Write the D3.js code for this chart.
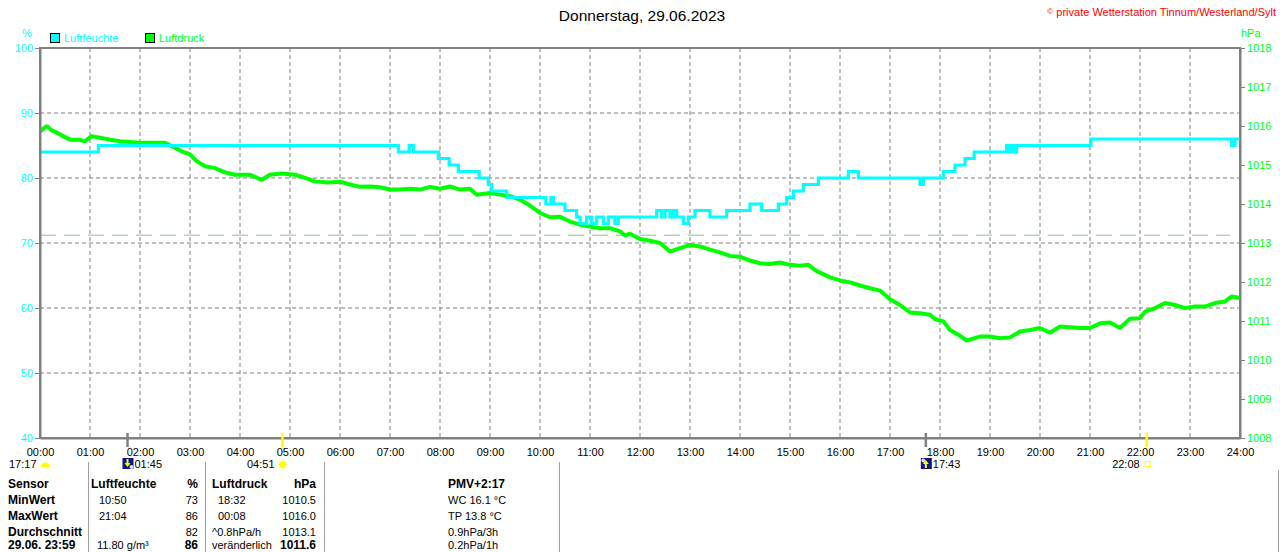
<!DOCTYPE html>
<html>
<head>
<meta charset="utf-8">
<script src="https://cdn.jsdelivr.net/npm/d3@7"></script>
<style>
  body { margin: 0; background: #fff; }
  svg { display: block; font-family: "Liberation Sans", Arial, sans-serif; }
</style>
</head>
<body>
<div class="canvas"></div>
<script>
// Luftfeuchte (step line), minutes since midnight -> %
const humTimes  = [0, 70, 430, 443, 448, 478, 491, 502, 527, 538, 542, 560, 607, 613, 616, 630, 644, 648, 656, 662,
                   668, 676, 682, 690, 694, 740, 746, 750, 756, 760, 764, 772, 778, 786, 804, 824, 852, 866, 886, 896,
                   904, 916, 934, 970, 982, 1056, 1060, 1084, 1098, 1110, 1121, 1160, 1163, 1166, 1169, 1172, 1261, 1430, 1434, 1440]
const humValues = [84, 85, 84, 85, 84, 83, 82, 81, 80, 79, 78, 77, 76, 77, 76, 75, 74, 73, 74, 73,
                   74, 73, 74, 73, 74, 75, 74, 75, 74, 75, 74, 73, 74, 75, 74, 75, 76, 75, 76, 77,
                   78, 79, 80, 81, 80, 79, 80, 81, 82, 83, 84, 85, 84, 85, 84, 85, 86, 85, 86, 86]

// Luftdruck, minutes since midnight -> hPa
const pressTimes = [
  0, 8, 14, 20, 26, 36, 46, 54, 62, 72,
  84, 96, 108, 120, 134, 150, 162, 170, 180, 188,
  198, 210, 222, 234, 252, 266, 276, 290, 306, 318,
  330, 346, 360, 372, 384, 396, 408, 420, 432, 444,
  456, 468, 480, 492, 504, 516, 524, 540, 552, 564,
  576, 588, 600, 612, 624, 636, 648, 660, 672, 684,
  696, 702, 708, 720, 732, 744, 756, 768, 780, 792,
  804, 816, 828, 840, 852, 864, 876, 888, 900, 912,
  922, 930, 936, 948, 960, 972, 984, 996, 1008, 1020,
  1032, 1044, 1056, 1068, 1074, 1084, 1092, 1104, 1112, 1128,
  1140, 1152, 1164, 1176, 1188, 1200, 1212, 1224, 1236, 1248,
  1260, 1272, 1284, 1296, 1308, 1320, 1326, 1338, 1350, 1362,
  1374, 1386, 1398, 1410, 1422, 1430, 1440]
const pressValues = [
  1015.86, 1016.0, 1015.89, 1015.83, 1015.76, 1015.65, 1015.65, 1015.61, 1015.74, 1015.7,
  1015.65, 1015.61, 1015.59, 1015.57, 1015.57, 1015.57, 1015.44, 1015.35, 1015.27, 1015.1,
  1014.97, 1014.92, 1014.81, 1014.75, 1014.75, 1014.62, 1014.75, 1014.78, 1014.75, 1014.67,
  1014.58, 1014.55, 1014.57, 1014.5, 1014.44, 1014.45, 1014.43, 1014.37, 1014.37, 1014.39,
  1014.37, 1014.44, 1014.39, 1014.45, 1014.37, 1014.39, 1014.24, 1014.28, 1014.24, 1014.2,
  1014.11, 1013.96, 1013.77, 1013.66, 1013.67, 1013.55, 1013.47, 1013.42, 1013.38, 1013.38,
  1013.3, 1013.19, 1013.24, 1013.1, 1013.06, 1013.0, 1012.78, 1012.87, 1012.95, 1012.91,
  1012.83, 1012.76, 1012.67, 1012.65, 1012.55, 1012.48, 1012.46, 1012.5, 1012.44, 1012.42,
  1012.44, 1012.31, 1012.24, 1012.12, 1012.04, 1011.99, 1011.91, 1011.84, 1011.78, 1011.56,
  1011.41, 1011.22, 1011.2, 1011.16, 1011.05, 1010.99, 1010.77, 1010.62, 1010.5, 1010.6,
  1010.6, 1010.56, 1010.58, 1010.73, 1010.77, 1010.82, 1010.7, 1010.86, 1010.84, 1010.82,
  1010.82, 1010.94, 1010.96, 1010.82, 1011.06, 1011.07, 1011.24, 1011.33, 1011.46, 1011.41,
  1011.33, 1011.37, 1011.37, 1011.46, 1011.5, 1011.63, 1011.59]

const avgPress = 1013.2

const hourTicks  = [0, 60, 120, 180, 240, 300, 360, 420, 480, 540, 600, 660, 720, 780, 840, 900, 960, 1020, 1080, 1140, 1200, 1260, 1320, 1380, 1440]
const hourLabels = ['00:00','01:00','02:00','03:00','04:00','05:00','06:00','07:00','08:00','09:00','10:00','11:00','12:00',
                    '13:00','14:00','15:00','16:00','17:00','18:00','19:00','20:00','21:00','22:00','23:00','24:00']
const humTicks   = [40, 50, 60, 70, 80, 90, 100]
const pressTicks = [1008, 1009, 1010, 1011, 1012, 1013, 1014, 1015, 1016, 1017, 1018]

// Sonne / Mond Ereignisse (minutes)
const moonSet = 105, sunRise = 291, moonRise = 1063, sunSet = 1328

const tableRows = ['Sensor', 'MinWert', 'MaxWert', 'Durchschnitt', '29.06. 23:59']
const humTimeCol  = ['', '10:50', '21:04', '', '11.80 g/m³']
const humValCol   = ['%', '73', '86', '82', '86']
const pressTimeCol = ['Luftdruck', '18:32', '00:08', '^0.8hPa/h', 'veränderlich']
const pressValCol  = ['hPa', '1010.5', '1016.0', '1013.1', '1011.6']
const pmvCol = ['PMV+2:17', 'WC 16.1 °C', 'TP 13.8 °C', '0.9hPa/3h', '0.2hPa/1h']

const cyan = '#00ffff', green = '#00ff00', grey = '#808080'

const svg = d3.select('.canvas')
  .append('svg')
  .attr('width', 1280)
  .attr('height', 552)

const x = d3.scaleLinear().domain([0, 1440]).range([40, 1240])
const yHum = d3.scaleLinear().domain([40, 100]).range([438, 48])
const yPress = d3.scaleLinear().domain([1008, 1018]).range([438, 48])

// grid
svg.append('g').selectAll('line')
  .data(hourTicks.slice(1, -1))
  .enter().append('line')
  .attr('x1', d => x(d)).attr('x2', d => x(d))
  .attr('y1', yHum(100)).attr('y2', yHum(40))
  .attr('stroke', grey).attr('stroke-dasharray', '4,3')

svg.append('g').selectAll('line')
  .data(humTicks.slice(1, -1))
  .enter().append('line')
  .attr('x1', x(0)).attr('x2', x(1440))
  .attr('y1', d => yHum(d)).attr('y2', d => yHum(d))
  .attr('stroke', grey).attr('stroke-dasharray', '4,3')

// mean pressure
svg.append('line')
  .attr('x1', x(0)).attr('x2', x(1428))
  .attr('y1', yPress(avgPress)).attr('y2', yPress(avgPress))
  .attr('stroke', '#8fbf8f').attr('stroke-dasharray', '16,8')

// frame
svg.append('rect')
  .attr('x', x(0)).attr('y', yHum(100))
  .attr('width', x(1440) - x(0)).attr('height', yHum(40) - yHum(100))
  .attr('fill', 'none').attr('stroke', grey).attr('stroke-width', 2)

// lines
const pressData = pressTimes.map((t, i) => [t, pressValues[i]])
const humData = humTimes.map((t, i) => [t, humValues[i]])

svg.append('path')
  .datum(pressData)
  .attr('fill', 'none').attr('stroke', green).attr('stroke-width', 4)
  .attr('stroke-linejoin', 'bevel')
  .attr('d', d3.line().x(d => x(d[0])).y(d => yPress(d[1])))

svg.append('path')
  .datum(humData)
  .attr('fill', 'none').attr('stroke', cyan).attr('stroke-width', 3.2)
  .attr('d', d3.line().curve(d3.curveStepAfter).x(d => x(d[0])).y(d => yHum(d[1])))

// axes
const leftAxis = svg.append('g')
  .attr('transform', `translate(${x(0)},0)`)
  .call(d3.axisLeft(yHum).tickValues(humTicks).tickSize(5).tickSizeOuter(0).tickPadding(2))
const rightAxis = svg.append('g')
  .attr('transform', `translate(${x(1440)},0)`)
  .call(d3.axisRight(yPress).tickValues(pressTicks).tickSize(5).tickSizeOuter(0).tickPadding(2).tickFormat(d3.format('d')))
const bottomAxis = svg.append('g')
  .attr('transform', `translate(0,${yHum(40)})`)
  .call(d3.axisBottom(x).tickValues(hourTicks).tickSize(0).tickPadding(10).tickFormat((d, i) => hourLabels[i]))

svg.selectAll('.domain').attr('stroke', grey).attr('stroke-width', 2)
svg.selectAll('.tick line').attr('stroke', grey)
leftAxis.selectAll('text').attr('fill', cyan).attr('font-size', 11).attr('font-family', null)
rightAxis.selectAll('text').attr('fill', green).attr('font-size', 11).attr('font-family', null)
bottomAxis.selectAll('text').attr('fill', 'black').attr('font-size', 11).attr('font-family', null)

// unit labels, title
svg.append('text').attr('x', 22).attr('y', 37).attr('fill', cyan).attr('font-size', 11).text('%')
svg.append('text').attr('x', 1241).attr('y', 37).attr('fill', green).attr('font-size', 11).text('hPa')
svg.append('text').attr('x', 642).attr('y', 21).attr('text-anchor', 'middle').attr('font-size', 15.5).text('Donnerstag, 29.06.2023')
const copy = svg.append('text').attr('x', 1276).attr('y', 16).attr('text-anchor', 'end').attr('fill', 'red').attr('font-size', 11)
copy.append('tspan').attr('font-size', 8).attr('dy', -2).text('©')
copy.append('tspan').attr('dy', 2).text(' private Wetterstation Tinnum/Westerland/Sylt')

// legend
const legendItems = [['Luftfeuchte', cyan, 50], ['Luftdruck', green, 145]]
legendItems.forEach(([name, col, lx]) => {
  svg.append('rect').attr('x', lx + 0.5).attr('y', 33.5).attr('width', 9).attr('height', 9)
    .attr('fill', col).attr('stroke', 'black')
  svg.append('text').attr('x', lx + 14).attr('y', 42).attr('fill', col).attr('font-size', 11).text(name)
})

// sun / moon markers on the time axis
const markers = [[moonSet, grey], [sunRise, '#ffff00'], [moonRise, grey], [sunSet, '#ffff00']]
svg.append('g').selectAll('line')
  .data(markers)
  .enter().append('line')
  .attr('x1', d => x(d[0])).attr('x2', d => x(d[0]))
  .attr('y1', 433).attr('y2', 447)
  .attr('stroke', d => d[1]).attr('stroke-width', 2.5)

const ev = svg.append('g').attr('font-size', 11)
ev.append('text').attr('x', 9).attr('y', 468).text('17:17')
ev.append('path').attr('d', 'M41,467 A4.5,4.5 0 0 1 50,467 Z').attr('fill', '#ffff00')

function moonIcon(cx, up) {
  const g = ev.append('g').attr('transform', `translate(${cx - 5},458)`)
  g.append('rect').attr('width', 11).attr('height', 11).attr('fill', '#101880')
  g.append('circle').attr('cx', up ? 2.5 : 9, ).attr('cy', up ? 2.5 : 9).attr('r', 2).attr('fill', '#dde')
  if (up) g.append('path').attr('d', 'M5,2 L2,6 L4,6 L4,10 L6,10 L6,6 L8,6 Z').attr('fill', '#ffff00')
  else g.append('path').attr('d', 'M5,9 L2,5 L4,5 L4,1 L6,1 L6,5 L8,5 Z').attr('fill', '#ffff00')
}
moonIcon(x(moonSet), false)
ev.append('text').attr('x', x(moonSet) + 7).attr('y', 468).text('01:45')
ev.append('text').attr('x', x(sunRise) - 8).attr('y', 468).attr('text-anchor', 'end').text('04:51')
const sun = ev.append('g').attr('transform', `translate(${x(sunRise)},464.5)`)
d3.range(8).forEach(i => {
  const a = i * Math.PI / 4
  sun.append('line').attr('x1', Math.cos(a) * 3).attr('y1', Math.sin(a) * 3)
    .attr('x2', Math.cos(a) * 5.5).attr('y2', Math.sin(a) * 5.5).attr('stroke', '#ffff80')
})
sun.append('circle').attr('r', 3.5).attr('fill', '#ffff00')
moonIcon(x(moonRise), true)
ev.append('text').attr('x', x(moonRise) + 7).attr('y', 468).text('17:43')
ev.append('text').attr('x', x(sunSet) - 7).attr('y', 468).attr('text-anchor', 'end').text('22:08')
ev.append('rect').attr('x', x(sunSet) - 1.5).attr('y', 461.5).attr('width', 5).attr('height', 5)
  .attr('fill', 'none').attr('stroke', '#ffff00')

// table
const tbl = svg.append('g').attr('font-size', 11)
;[88.5, 205.5, 324.5, 559.5].forEach(lx => {
  tbl.append('line').attr('x1', lx).attr('x2', lx).attr('y1', 462).attr('y2', 552).attr('stroke', '#a0a0a0')
})
tbl.append('line').attr('x1', 1278.5).attr('x2', 1278.5).attr('y1', 470).attr('y2', 552).attr('stroke', '#a0a0a0')

const rowY = [488, 504, 520, 536, 549]
tableRows.forEach((r, i) => {
  tbl.append('text').attr('x', 8).attr('y', rowY[i]).attr('font-weight', 'bold').attr('font-size', 12).text(r)
  tbl.append('text').attr('x', i === 0 ? 91 : (i === 4 ? 97 : 99)).attr('y', rowY[i])
    .attr('font-weight', i === 0 ? 'bold' : null).attr('font-size', i === 0 ? 12 : 11)
    .text(i === 0 ? 'Luftfeuchte' : humTimeCol[i])
  tbl.append('text').attr('x', 198).attr('y', rowY[i]).attr('text-anchor', 'end')
    .attr('font-weight', i === 0 || i === 4 ? 'bold' : null).attr('font-size', i === 0 || i === 4 ? 12 : 11)
    .text(humValCol[i])
  tbl.append('text').attr('x', (i === 1 || i === 2) ? 218 : 212).attr('y', rowY[i])
    .attr('font-weight', i === 0 ? 'bold' : null).attr('font-size', i === 0 ? 12 : 11)
    .text(pressTimeCol[i])
  tbl.append('text').attr('x', 316).attr('y', rowY[i]).attr('text-anchor', 'end')
    .attr('font-weight', i === 0 || i === 4 ? 'bold' : null).attr('font-size', i === 0 || i === 4 ? 12 : 11)
    .text(pressValCol[i])
  tbl.append('text').attr('x', 448).attr('y', rowY[i])
    .attr('font-weight', i === 0 ? 'bold' : null).attr('font-size', i === 0 ? 12 : 11)
    .text(pmvCol[i])
})
</script>
</body>
</html>
